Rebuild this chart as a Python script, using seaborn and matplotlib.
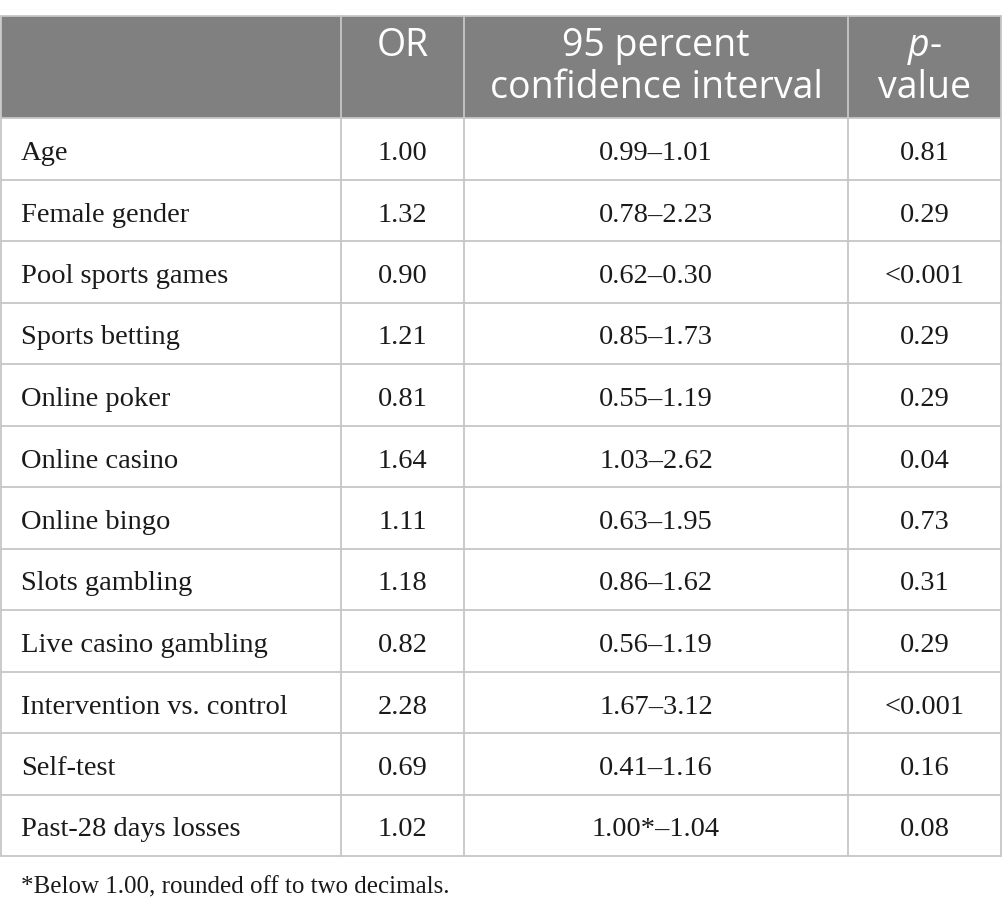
import matplotlib
matplotlib.use("Agg")
import matplotlib.pyplot as plt
import seaborn as sns

# table contents
variables = ["Age", "Female gender", "Pool sports games", "Sports betting",
             "Online poker", "Online casino", "Online bingo", "Slots gambling",
             "Live casino gambling", "Intervention vs. control", "Self-test",
             "Past-28 days losses"]
odds_ratio = ["1.00", "1.32", "0.90", "1.21", "0.81", "1.64", "1.11", "1.18",
              "0.82", "2.28", "0.69", "1.02"]
conf_int = ["0.99\u20131.01", "0.78\u20132.23", "0.62\u20130.30", "0.85\u20131.73",
            "0.55\u20131.19", "1.03\u20132.62", "0.63\u20131.95", "0.86\u20131.62",
            "0.56\u20131.19", "1.67\u20133.12", "0.41\u20131.16", "1.00*\u20131.04"]
p_values = ["0.81", "0.29", "<0.001", "0.29", "0.29", "0.04", "0.73", "0.31",
            "0.29", "<0.001", "0.16", "0.08"]
headers = [[], ["OR"], ["95 percent", "confidence interval"], ["$p$-", "value"]]
footnote = "*Below 1.00, rounded off to two decimals."

sns.set_theme(style="white")
plt.rcParams["mathtext.fontset"] = "custom"
plt.rcParams["mathtext.it"] = "Open Sans:italic"
plt.rcParams["mathtext.rm"] = "Open Sans"

W, H = 1002, 914
fig = plt.figure(figsize=(W / 100, H / 100), dpi=100)
ax = fig.add_axes([0, 0, 1, 1])
ax.set_xlim(0, W)
ax.set_ylim(H, 0)
ax.axis("off")

col_edges = [0.5, 341, 464, 848, 1001.5]
head_top, head_bot = 16, 118
row_h = 61.5
n = len(variables)
table_bot = head_bot + n * row_h
line_col = "#c6c6c6"
head_col = "#808080"

# header band
ax.add_patch(plt.Rectangle((col_edges[0], head_top), col_edges[-1] - col_edges[0],
                           head_bot - head_top, color=head_col, lw=0, zorder=0))

# grid lines
for x in col_edges:
    ax.plot([x, x], [head_top, table_bot], color=line_col, lw=1.3, zorder=2)
ax.plot([col_edges[0], col_edges[-1]], [head_top, head_top], color=line_col, lw=1.3)
for i in range(n + 1):
    y = head_bot + i * row_h
    ax.plot([col_edges[0], col_edges[-1]], [y, y], color=line_col, lw=1.3, zorder=2)

# header text, one text per line
head_baselines = [56, 98]
for j, lines in enumerate(headers):
    cx = (col_edges[j] + col_edges[j + 1]) / 2
    for k, line in enumerate(lines):
        ax.text(cx, head_baselines[k], line, ha="center", va="baseline",
                color="white", fontsize=27, family="Open Sans")

# body
serif = ["Liberation Serif", "DejaVu Serif"]
txt_col = "#1a1a1a"
for i in range(n):
    by = head_bot + i * row_h + 42
    ax.text(21, by, variables[i], ha="left", va="baseline", fontsize=20.5,
            family=serif, color=txt_col)
    for j, vals in enumerate([odds_ratio, conf_int, p_values], start=1):
        cx = (col_edges[j] + col_edges[j + 1]) / 2
        ax.text(cx, by, vals[i], ha="center", va="baseline", fontsize=20.5,
                family=serif, color=txt_col)

ax.text(21, 893, footnote, ha="left", va="baseline", fontsize=18,
        family=serif, color=txt_col)

fig.savefig("out.png", dpi=100)
